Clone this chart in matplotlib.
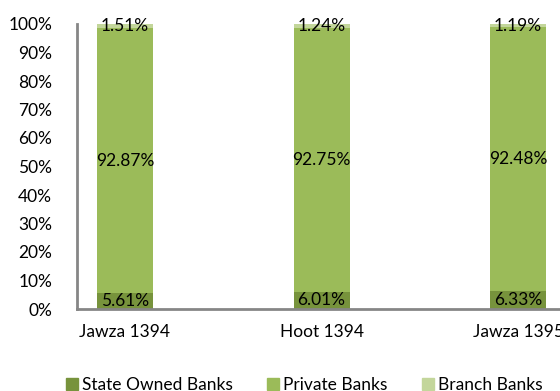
import numpy as np
import matplotlib.pyplot as plt
from matplotlib.patches import Patch

plt.rcParams['font.family'] = ['Lato', 'DejaVu Sans']

periods = ['Jawza 1394', 'Hoot 1394', 'Jawza 1395']
state_owned = [5.61, 6.01, 6.33]
private = [92.87, 92.75, 92.48]
branch = [1.51, 1.24, 1.19]

series = [
    ('State Owned Banks', state_owned, '#77933C'),
    ('Private Banks', private, '#9BBB59'),
    ('Branch Banks', branch, '#C3D69B'),
]

W, H = 560, 391
fs = 12.5
fig = plt.figure(figsize=(W / 100, H / 100), dpi=100)
ax = fig.add_axes([77 / W, (H - 309) / H, (585 - 77) / W, 285 / H])

x = np.arange(len(periods))
bottom = np.zeros(len(periods))
for name, vals, color in series:
    vals = np.array(vals)
    ax.bar(x, vals, 0.285, bottom=bottom, color=color, label=name)
    for xi, b, v in zip(x, bottom, vals):
        ax.text(xi, b + v / 2, f'{v:.2f}%', ha='center', va='center',
                fontsize=fs, color='black')
    bottom += vals

ax.set_ylim(0, 100)
ax.set_xlim(-0.244, 2.34)
ax.set_yticks(np.arange(0, 101, 10))
ax.set_yticklabels([f'{t}%' for t in range(0, 101, 10)], fontsize=fs)
ax.set_xticks(x)
ax.set_xticklabels(periods, fontsize=fs)
ax.tick_params(axis='y', length=0, pad=18)
ax.tick_params(axis='x', length=0, pad=11)

for s in ['top', 'right']:
    ax.spines[s].set_visible(False)
for s in ['left', 'bottom']:
    ax.spines[s].set_color('#868686')
    ax.spines[s].set_linewidth(2)

handles = [Patch(color=c, label=n) for n, _, c in series]
fig.legend(handles=handles, loc='center left', bbox_to_anchor=(66 / W, 1 - 385 / H),
           ncol=3, frameon=False, fontsize=fs, handlelength=0.7, handleheight=0.7,
           handletextpad=0.2, columnspacing=2.0, borderaxespad=0, borderpad=0)

fig.savefig('out.png', dpi=100)
